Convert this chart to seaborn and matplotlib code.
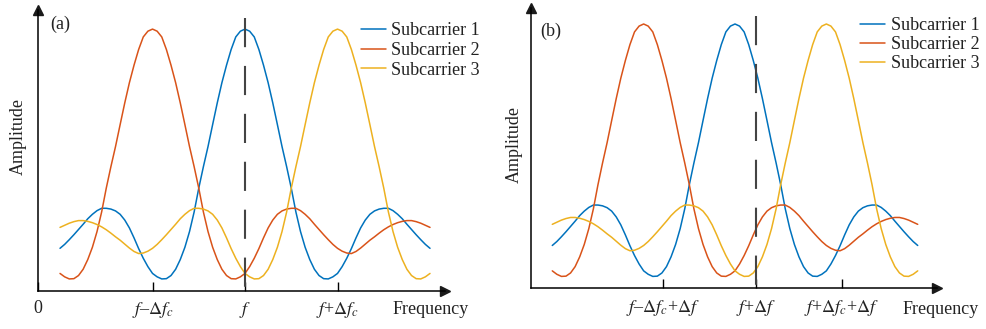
import numpy as np
import pandas as pd
import matplotlib
matplotlib.use('Agg')
import matplotlib.pyplot as plt
import seaborn as sns

# amplitude of one subcarrier against distance from its centre
# (in units of delta f_c, step 0.05)
lobe = [1.000, 0.992, 0.970, 0.922, 0.862, 0.795, 0.718, 0.635, 0.551, 0.474,
        0.392, 0.301, 0.226, 0.166, 0.119, 0.082, 0.058, 0.046, 0.045, 0.053,
        0.066, 0.092, 0.124, 0.161, 0.202, 0.240, 0.270, 0.292, 0.305, 0.312,
        0.315, 0.315, 0.306, 0.292, 0.275, 0.254, 0.234, 0.214, 0.195, 0.177,
        0.162, 0.151, 0.144, 0.142, 0.150, 0.163, 0.178, 0.193, 0.206, 0.220,
        0.233, 0.244, 0.253, 0.260, 0.265, 0.268, 0.268, 0.264, 0.258, 0.250, 0.242]
step = 0.05

carriers = ['Subcarrier 1', 'Subcarrier 2', 'Subcarrier 3']
centres = [0, -1, 1]          # subcarrier centres, units of delta f_c
colors = ['#0072BD', '#D95319', '#EDB120']

ticks_a = [-2.238, -1, 0, 1]
labels_a = ['0', r'$f$–$\Delta f_c$', r'$f$', r'$f$+$\Delta f_c$']
ticks_b = [-0.788, 0.227, 1.171]
labels_b = [r'$f$–$\Delta f_c$+$\Delta f$', r'$f$+$\Delta f$', r'$f$+$\Delta f_c$+$\Delta f$']
sample_a = 0.0
sample_b = 0.227

# build the curves
rows = []
for name, c in zip(carriers, centres):
    for i in range(-40, 41):
        k = abs(i - int(round(c / step)))
        rows.append({'freq': i * step, 'amp': lobe[k], 'carrier': name})
df = pd.DataFrame(rows)

sns.set_theme(style='white')
plt.rcParams['font.family'] = ['Liberation Serif', 'DejaVu Serif']
plt.rcParams['mathtext.fontset'] = 'stix'
txt = '#222222'

fig = plt.figure(figsize=(9.87, 3.29), dpi=100)
ax_a = fig.add_axes([38 / 987, 38.3 / 329, 407 / 987, 280.7 / 329])
ax_b = fig.add_axes([531 / 987, 40.7 / 329, 406 / 987, 280.3 / 329])


def draw(ax, xlim, ylim, ticks, labels, sample, top):
    sns.lineplot(data=df, x='freq', y='amp', hue='carrier', palette=dict(zip(carriers, colors)),
                 hue_order=carriers, estimator=None, sort=True, lw=1.1, ax=ax)
    ax.plot([sample, sample], [top, 0], color='#444444', lw=1.5, dashes=(14, 9), zorder=3)
    ax.set_xlim(*xlim)
    ax.set_ylim(*ylim)
    ax.set_xlabel('')
    ax.set_ylabel('')
    ax.set_yticks([])
    ax.set_xticks(ticks)
    ax.set_xticklabels(labels)
    ax.tick_params(axis='x', direction='in', length=6.5, width=1.0, pad=7,
                   labelsize=13, colors='black', labelcolor=txt, bottom=True)
    for s in ['top', 'right']:
        ax.spines[s].set_visible(False)
    for s in ['left', 'bottom']:
        ax.spines[s].set_color('black')
        ax.spines[s].set_linewidth(1.1)
    # arrow heads on the axes
    ax.plot(1, 0, '>k', ms=7, transform=ax.transAxes, clip_on=False)
    ax.plot(0, 1, '^k', ms=7, transform=ax.transAxes, clip_on=False)
    ax.set_facecolor('white')


draw(ax_a, (-2.238, 2.162), (0, 1.073), ticks_a, labels_a, sample_a, 1.042)
draw(ax_b, (-2.233, 2.211), (0, 1.0605), ticks_b, labels_b, sample_b, 1.03)

ax_a.legend(loc='upper left', bbox_to_anchor=(360.7 / 987, 1 - 22 / 329), bbox_transform=fig.transFigure,
            frameon=False, borderaxespad=0, borderpad=0, handlelength=1.4, handletextpad=0.3,
            labelspacing=0.16, fontsize=13, labelcolor=txt)
ax_b.legend(loc='upper left', bbox_to_anchor=(860 / 987, 1 - 17 / 329), bbox_transform=fig.transFigure,
            frameon=False, borderaxespad=0, borderpad=0, handlelength=1.4, handletextpad=0.3,
            labelspacing=0.12, fontsize=13, labelcolor=txt)

fig.text(431 / 987, 1 - 309 / 329, 'Frequency', ha='center', va='center', fontsize=13, color=txt)
fig.text(941 / 987, 1 - 310 / 329, 'Frequency', ha='center', va='center', fontsize=13, color=txt)
fig.text(18 / 987, 1 - 137 / 329, 'Amplitude', rotation=90, ha='center', va='center', fontsize=13, color=txt)
fig.text(514 / 987, 1 - 145 / 329, 'Amplitude', rotation=90, ha='center', va='center', fontsize=13, color=txt)
fig.text(50 / 987, 1 - 24 / 329, '(a)', ha='left', va='center', fontsize=13, color=txt)
fig.text(540 / 987, 1 - 31 / 329, '(b)', ha='left', va='center', fontsize=13, color=txt)

fig.savefig('out.png', dpi=100, facecolor='white')
